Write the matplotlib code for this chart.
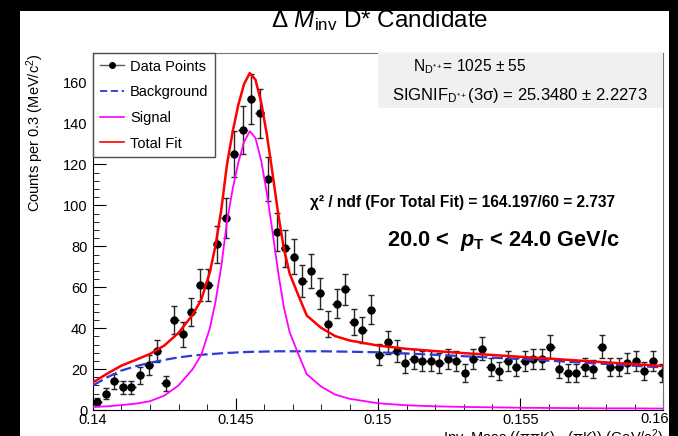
import numpy as np
import matplotlib
matplotlib.use("Agg")
import matplotlib.pyplot as plt
from matplotlib.lines import Line2D
from matplotlib.patches import Rectangle
from matplotlib.ticker import MultipleLocator, FuncFormatter

plt.rcParams['font.family'] = ['Liberation Sans', 'DejaVu Sans']
plt.rcParams['mathtext.fontset'] = 'custom'
plt.rcParams['mathtext.rm'] = 'Liberation Sans'
plt.rcParams['mathtext.it'] = 'Liberation Sans:italic'
plt.rcParams['mathtext.bf'] = 'Liberation Sans:bold'
plt.rcParams['mathtext.bfit'] = 'Liberation Sans:bold:italic'

# histogram binning (GeV/c^2)
bin_lo = 0.14
bin_width = 0.0003

# counts per bin
counts = [4, 8, 14, 11, 11, 17, 22, 29, 13, 44,
          37, 48, 61, 61, 81, 94, 125, 137, 152, 145,
          113, 87, 79, 75, 63, 68, 57, 42, 52, 59,
          43, 39, 49, 27, 33, 29, 23, 25, 24, 24,
          23, 25, 24, 18, 25, 30, 21, 19, 24, 21,
          24, 25, 25, 31, 20, 18, 18, 21, 20, 31,
          21, 21, 23, 24, 19, 24, 18]

# fit curves
curve_mass = [0.1400, 0.1405, 0.1410, 0.1415, 0.1420, 0.1425, 0.1430, 0.1435,
              0.1438, 0.1441, 0.1443, 0.1445, 0.1447, 0.1449, 0.1451, 0.1453,
              0.1455, 0.1457, 0.1459, 0.1461, 0.1463, 0.1465, 0.1467, 0.1469,
              0.1472, 0.1475, 0.1480, 0.1485, 0.1490, 0.1500, 0.1510, 0.1520,
              0.1530, 0.1540, 0.1550, 0.1560, 0.1570, 0.1580, 0.1590, 0.1600]
signal = [1.5, 1.8, 2.4, 3.1, 4.3, 7.0, 12.0, 20.0,
          27.0, 40.0, 53.0, 70.0, 92.0, 108.0, 121.0, 131.0,
          136.3, 133.0, 122.0, 106.0, 87.0, 67.0, 50.0, 38.0,
          27.5, 17.5, 11.5, 7.5, 5.5, 3.3, 2.3, 1.8,
          1.5, 1.3, 1.1, 1.0, 0.9, 0.8, 0.8, 0.7]
background = [12.0, 16.0, 19.3, 21.4, 23.1, 24.5, 25.7, 26.6,
              27.0, 27.3, 27.5, 27.7, 27.9, 28.0, 28.2, 28.3,
              28.4, 28.5, 28.5, 28.6, 28.6, 28.7, 28.7, 28.7,
              28.7, 28.7, 28.7, 28.6, 28.5, 28.2, 27.6, 27.0,
              26.3, 25.6, 24.9, 24.1, 23.3, 22.5, 21.6, 20.8]

legend_labels = ["Data Points", "Background", "Signal", "Total Fit"]

counts = np.array(counts, dtype=float)
centres = bin_lo + bin_width * (np.arange(len(counts)) + 0.5)
errors = np.sqrt(counts)  # poisson errors, as drawn by ROOT
total = np.array(signal) + np.array(background)

W, H = 678, 436
fig = plt.figure(figsize=(W / 100, H / 100), dpi=100, facecolor='black')
# white canvas inside the black border
fig.patches.append(Rectangle((20 / W, 0), (669 - 20) / W, (H - 11) / H,
                             transform=fig.transFigure, facecolor='white',
                             edgecolor='none', zorder=-1))

ax = fig.add_axes([93 / W, 26 / H, 570 / W, 357 / H])

ax.errorbar(centres, counts, yerr=errors, fmt='none', ecolor='0.15',
            elinewidth=1, capsize=2, capthick=1, zorder=2)
ax.errorbar(centres, counts, xerr=bin_width / 2, fmt='o', color='black',
            ms=5, elinewidth=1, capsize=0, zorder=2)

blue = '#2b3bd6'
ax.plot(curve_mass, background, color=blue, lw=1.6, dashes=(5, 2), zorder=3)
ax.plot(curve_mass, signal, color='#ff00ff', lw=1.3, zorder=3)
ax.plot(curve_mass, total, color='#ff0000', lw=1.8, zorder=4)

ax.set_xlim(0.14, 0.16)
ax.set_ylim(0, 174.5)
ax.xaxis.set_major_locator(MultipleLocator(0.005))
ax.xaxis.set_minor_locator(MultipleLocator(0.001))
ax.yaxis.set_major_locator(MultipleLocator(20))
ax.yaxis.set_minor_locator(MultipleLocator(4))
# last label is drawn separately, pulled inside the canvas like ROOT does
ax.xaxis.set_major_formatter(FuncFormatter(lambda v, p: "" if v > 0.1599 else f"{v:g}"))
ax.annotate("0.16", xy=(0.16, 0), xycoords=('data', 'axes fraction'),
            xytext=(-8, -2), textcoords='offset pixels', ha='center', va='top',
            fontsize=10.5, annotation_clip=False)
ax.tick_params(which='both', direction='in', top=False, right=False,
               labelsize=10.5)
ax.tick_params(which='major', length=9)
ax.tick_params(which='minor', length=4.5)
ax.tick_params(axis='x', pad=2)
ax.tick_params(axis='y', pad=4)
for side in ['top', 'right']:
    ax.spines[side].set_color('0.45')

handles = [
    Line2D([], [], color='0.35', lw=1, marker='o', ms=4, mfc='black', mec='black'),
    Line2D([], [], color=blue, lw=1.3, dashes=(4, 2)),
    Line2D([], [], color='#ff00ff', lw=1.2),
    Line2D([], [], color='#ff0000', lw=1.2),
]
leg = ax.legend(handles, legend_labels, loc='upper left', bbox_to_anchor=(0, 1),
                borderaxespad=0, fontsize=10.5, fancybox=False, framealpha=1,
                edgecolor='0.3', handlelength=1.7, handletextpad=0.4,
                labelspacing=0.8, borderpad=0.45)
leg.get_frame().set_linewidth(1)

# stats box
ax.add_patch(Rectangle((0.5, 0.846), 0.5, 0.154, transform=ax.transAxes,
                       facecolor='#f0f0f0', edgecolor='none', zorder=5))
ax.text(0.561, 0.963, r'N$_{\mathrm{D}^{*+}}$= 1025 ± 55', transform=ax.transAxes,
        ha='left', va='center', fontsize=11.2, zorder=6)
ax.text(0.525, 0.880, r'SIGNIF$_{\mathrm{D}^{*+}}$(3σ) = 25.3480 ± 2.2273',
        transform=ax.transAxes, ha='left', va='center', fontsize=12, zorder=6)

ax.text(0.381, 0.580, 'χ² / ndf (For Total Fit) = 164.197/60 = 2.737',
        transform=ax.transAxes, ha='left', va='center', fontsize=11.2,
        fontweight='bold')
ax.text(0.516, 0.476, r'20.0 <  $\mathbfit{p}_{\mathbf{T}}$ < 24.0 GeV/c',
        transform=ax.transAxes, ha='left', va='center', fontsize=15.7,
        fontweight='bold')

fig.text(380 / W, 1 - 21 / H, r'Δ $M_{\mathrm{inv}}$ D* Candidate',
         ha='center', va='center', fontsize=17.5)
fig.text(35 / W, 1 - 53 / H, r'Counts per 0.3 (MeV/c$^{2}$)', rotation=90,
         ha='center', va='top', fontsize=10.5)
fig.text(663 / W, 1 - 427 / H, r'Inv. Mass ((ππK) - (πK)) (GeV/c$^{2}$)',
         ha='right', va='top', fontsize=10.5)

fig.savefig('out.png', dpi=100, facecolor=fig.get_facecolor())
